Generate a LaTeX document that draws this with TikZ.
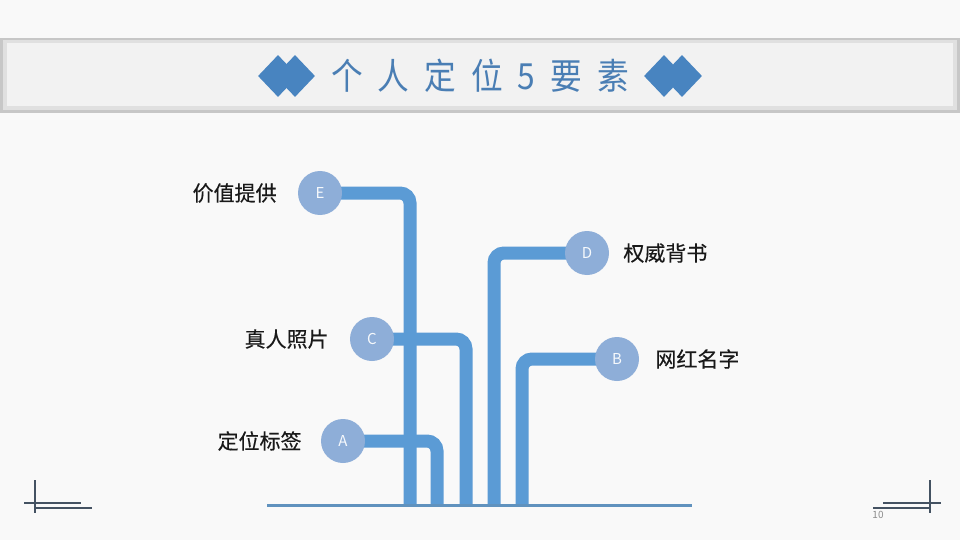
\documentclass[tikz,border=0pt]{standalone}
\usepackage{fontspec}
\setmainfont{Noto Sans CJK SC}
\newfontfamily\tagfont[FakeBold=0.3]{Noto Sans CJK SC}
\usepackage{tikz}
\usetikzlibrary{shapes.geometric, positioning, backgrounds}
\definecolor{pipeblue}{RGB}{91,155,213}
\definecolor{dotblue}{RGB}{142,174,216}
\definecolor{titleblue}{RGB}{74,126,180}
\definecolor{gemblue}{RGB}{72,132,192}
\definecolor{baseblue}{RGB}{96,146,190}
\definecolor{cornergray}{RGB}{68,82,98}
\definecolor{pagebg}{RGB}{249,249,249}

\begin{document}
\begin{tikzpicture}[
  x=1pt, y=-1pt,
  node distance=20pt,
  dot/.style={circle, fill=dotblue, minimum size=44pt, inner sep=0pt, font=\fontsize{15}{15}\selectfont, text=white!92!dotblue},
  tag/.style={inner sep=0pt, font=\tagfont\fontsize{21}{21}\selectfont, text=black!90},
  gem/.style={diamond, fill=gemblue, minimum width=40pt, minimum height=42pt, inner sep=0pt},
  pipe/.style={line width=13pt, color=pipeblue, rounded corners=10pt},
  cornerline/.style={line width=1.3pt, color=cornergray}
]
\useasboundingbox (0,0) rectangle (960,540);

% Title
\node[inner sep=0pt, xscale=0.88, text=titleblue, font=\fontsize{36}{36}\selectfont] (title) at (480,76)
  {个\hspace{17pt}人\hspace{17pt}定\hspace{17pt}位\hspace{17pt}5\hspace{17pt}要\hspace{17pt}素};
\node[gem] (gemL1) at (278,76) {};
\node[gem] (gemL2) at (295,76) {};
\node[gem] (gemR1) at (664,76) {};
\node[gem] (gemR2) at (682,76) {};

% Circles
\node[dot] (dotE) at (320,193) {E};
\node[dot] (dotC) at (372,339) {C};
\node[dot] (dotA) at (343,441) {A};
\node[dot] (dotD) at (587,253) {D};
\node[dot] (dotB) at (617,359) {B};

% Labels
\node[tag, left=21pt of dotE] (tagE) {价值提供};
\node[tag, left=21pt of dotC] (tagC) {真人照片};
\node[tag, left=19pt of dotA] (tagA) {定位标签};
\node[tag, right=14pt of dotD] (tagD) {权威背书};
\node[tag, right=16pt of dotB] (tagB) {网红名字};

% Feet of the pipes
\coordinate (footE) at (410,504);
\coordinate (footA) at (437,504);
\coordinate (footC) at (466,504);
\coordinate (footD) at (494,504);
\coordinate (footB) at (522,504);
\coordinate (baseL) at (267,505);
\coordinate (baseR) at (692,505);

% Page number
\node[inner sep=0pt, text=black!45, font=\fontsize{10}{10}\selectfont] (pageno) at (878,515) {10};

\begin{scope}[on background layer]
  \fill[pagebg] (0,0) rectangle (960,540);
  % title bar
  \fill[black!22] (0,38) rectangle (960,113);
  \fill[black!12] (3,40) rectangle (957,110);
  \fill[black!5] (7,43) rectangle (953,106);
  % pipes
  \draw[pipe] (dotE.center) -| (footE);
  \draw[pipe] (dotC.center) -| (footC);
  \draw[pipe] (dotA.center) -| (footA);
  \draw[pipe] (dotD.center) -| (footD);
  \draw[pipe] (dotB.center) -| (footB);
\end{scope}

% Base line
\draw[line width=3pt, baseblue] (baseL) -- (baseR);

% Corner marks
\draw[cornerline] (35,480) -- (35,513);
\draw[cornerline] (24,503) -- (81,503);
\draw[cornerline] (35,508) -- (92,508);
\draw[cornerline] (930,480) -- (930,513);
\draw[cornerline] (883,503) -- (941,503);
\draw[cornerline] (873,508) -- (930,508);

\end{tikzpicture}
\end{document}
